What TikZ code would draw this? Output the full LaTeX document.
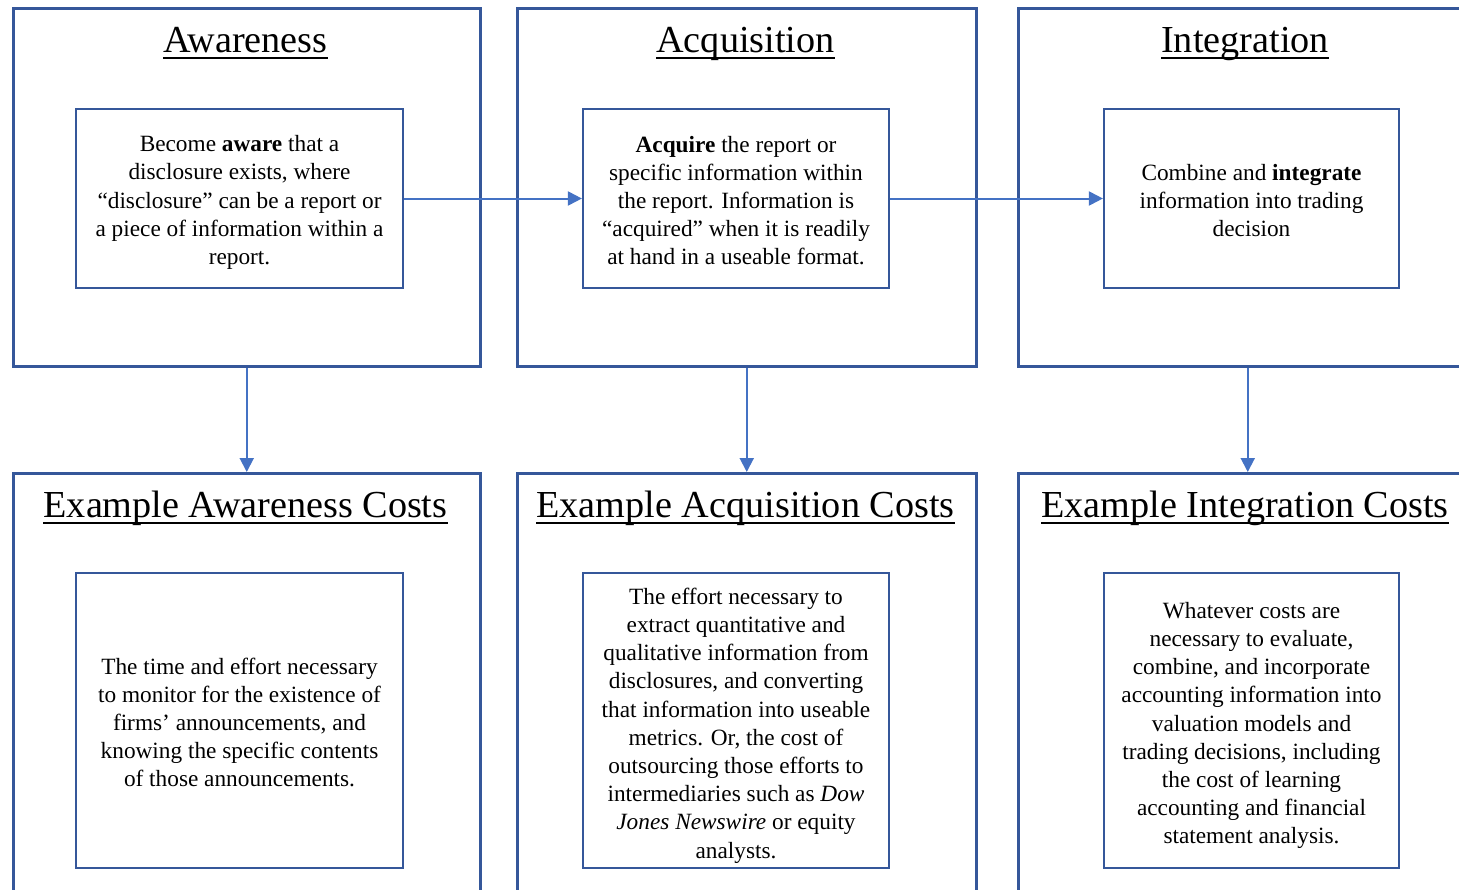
\documentclass[tikz,border=0pt]{standalone}
\usepackage{fontspec}
\setmainfont{Liberation Serif}
\usetikzlibrary{arrows.meta}
\definecolor{boxblue}{HTML}{35579A}
\definecolor{arrowblue}{HTML}{4472C4}
\tikzset{
  outerbox/.style={draw=boxblue, line width=2.5pt, inner sep=0pt, anchor=north west},
  innerbox/.style={draw=boxblue, line width=2.2pt, inner sep=0pt},
  bodytext/.style={inner sep=0pt, align=center, font=\fontsize{23.3}{28.2}\selectfont},
  titletext/.style={inner sep=0pt, anchor=base, font=\fontsize{38.2}{40}\selectfont},
  uline/.style={line width=1.6pt, black},
  flow/.style={draw=arrowblue, line width=2pt, -{Triangle[length=14pt,width=14pt]}}
}
\begin{document}
\begin{tikzpicture}[x=1pt,y=-1pt]
\useasboundingbox (0,0) rectangle (1459,889);
\clip (0,0) rectangle (1459,889);
% outer boxes
\node[outerbox, minimum width=467pt, minimum height=358pt] (o1) at (12,7) {};
\node[outerbox, minimum width=459pt, minimum height=358pt] (o2) at (516,7) {};
\node[outerbox, minimum width=459pt, minimum height=358pt] (o3) at (1017,7) {};
\node[outerbox, minimum width=467pt, minimum height=440pt] (b1) at (12,472) {};
\node[outerbox, minimum width=459pt, minimum height=440pt] (b2) at (516,472) {};
\node[outerbox, minimum width=459pt, minimum height=440pt] (b3) at (1017,472) {};
% titles
\node[titletext] (t1) at (245.5,52) {Awareness};
\node[titletext] (t2) at (745.5,52) {Acquisition};
\node[titletext] (t3) at (1245,52) {Integration};
\node[titletext] (t4) at (245.5,517) {Example Awareness Costs};
\node[titletext] (t5) at (745.5,517) {Example Acquisition Costs};
\node[titletext] (t6) at (1245,517) {Example Integration Costs};
\foreach \t in {t1,t2,t3,t4,t5,t6}{
  \draw[uline] ([yshift=-6pt]\t.base west) -- ([yshift=-6pt]\t.base east);
}
% inner boxes
\node[innerbox, minimum width=327pt, minimum height=179pt] (i1) at (239.5,198.5) {};
\node[innerbox, minimum width=306pt, minimum height=179pt] (i2) at (736,198.5) {};
\node[innerbox, minimum width=295pt, minimum height=179pt] (i3) at (1251.5,198.5) {};
\node[innerbox, minimum width=327pt, minimum height=295pt] (j1) at (239.5,720.5) {};
\node[innerbox, minimum width=306pt, minimum height=295pt] (j2) at (736,720.5) {};
\node[innerbox, minimum width=295pt, minimum height=295pt] (j3) at (1251.5,720.5) {};
% texts
\node[bodytext] (i1t) at (239.5,202.5)
 {Become \textbf{aware} that a\\disclosure exists, where\\“disclosure” can be a report or\\a piece of information within a\\report.};
\node[bodytext] (i2t) at (736,200.5)
 {\textbf{Acquire} the report or\\specific information within\\the report. Information is\\“acquired” when it is readily\\at hand in a useable format.};
\node[bodytext] (i3t) at (1251.5,200.5)
 {Combine and \textbf{integrate}\\information into trading\\decision};
\node[bodytext] (j1t) at (239.5,722.5)
 {The time and effort necessary\\to monitor for the existence of\\firms’ announcements, and\\knowing the specific contents\\of those announcements.};
\node[bodytext] (j2t) at (736,725.5)
 {The effort necessary to\\extract quantitative and\\qualitative information from\\disclosures, and converting\\that information into useable\\metrics. Or, the cost of\\outsourcing those efforts to\\intermediaries such as \textit{Dow}\\\textit{Jones Newswire} or equity\\analysts.};
\node[bodytext] (j3t) at (1251.5,725.5)
 {Whatever costs are\\necessary to evaluate,\\combine, and incorporate\\accounting information into\\valuation models and\\trading decisions, including\\the cost of learning\\accounting and financial\\statement analysis.};
% connectors
\draw[flow] (i1.east) -- (i2.west);
\draw[flow] (i2.east) -- (i3.west);
\draw[flow] (o1.south) -- (b1.north);
\draw[flow] (o2.south) -- (b2.north);
\draw[flow] (o3.south) -- (b3.north);
\end{tikzpicture}
\end{document}
